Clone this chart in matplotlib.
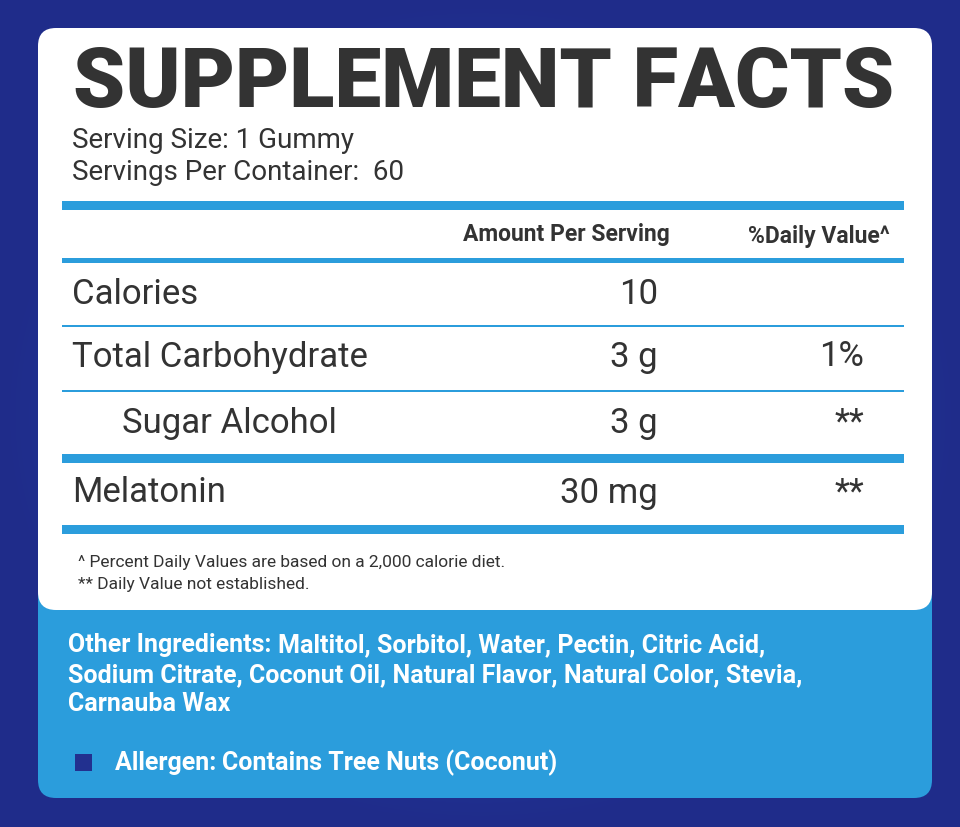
import matplotlib.pyplot as plt
from matplotlib.patches import FancyBboxPatch, Rectangle
import numpy as np

title = "SUPPLEMENT FACTS"
serving = ["Serving Size: 1 Gummy", "Servings Per Container:  60"]
headers = ["Amount Per Serving", "%Daily Value^"]
nutrients = ["Calories", "Total Carbohydrate", "Sugar Alcohol", "Melatonin"]
amounts = ["10", "3 g", "3 g", "30 mg"]
dvs = ["", "1%", "**", "**"]
indent = [False, False, True, False]
footnotes = ["^ Percent Daily Values are based on a 2,000 calorie diet.",
             "** Daily Value not established."]
other = ["Maltitol, Sorbitol, Water, Pectin, Citric Acid,",
         "Sodium Citrate, Coconut Oil, Natural Flavor, Natural Color, Stevia,",
         "Carnauba Wax"]
allergen = "Contains Tree Nuts (Coconut)"

plt.rcParams['font.family'] = ['Roboto', 'DejaVu Sans']
fig = plt.figure(figsize=(9.6, 8.27), dpi=100)
ax = fig.add_axes([0, 0, 1, 1])
ax.set_xlim(0, 960)
ax.set_ylim(827, 0)
ax.axis("off")

# blue background with soft gradient
yy, xx = np.mgrid[0:827, 0:960]
d = np.hypot((xx - 480) / 480, (yy - 414) / 414)
c0 = np.array([0x2a, 0x4c, 0xbc]) / 255
c1 = np.array([0x1f, 0x2c, 0x8a]) / 255
img = c0 + (c1 - c0) * np.clip(d, 0, 1)[..., None]
ax.imshow(img, extent=[0, 960, 827, 0], zorder=0)

lblue = "#2b9ddc"
ax.add_patch(FancyBboxPatch((38, 560), 894, 238, boxstyle="round,pad=0,rounding_size=18",
                            fc=lblue, ec="none", zorder=1))
ax.add_patch(FancyBboxPatch((38, 28), 894, 582, boxstyle="round,pad=0,rounding_size=18",
                            fc="white", ec="none", zorder=2))

dark = "#333333"
ax.text(484, 84, title, fontsize=60, fontweight="black", color=dark,
        ha="center", va="center", zorder=3)
for i, s in enumerate(serving):
    ax.text(72, 140 + i * 33, s, fontsize=20, color=dark, va="center", zorder=3)

# rule lines (y, thickness)
for y, h in [(205, 9), (260, 5), (326, 2.5), (391, 2.5), (458, 9), (529, 9)]:
    ax.add_patch(Rectangle((62, y - h / 2), 842, h, fc=lblue, ec="none", zorder=3))

ax.text(670, 234, headers[0], fontsize=16.5, fontweight="bold", color=dark,
        ha="right", va="center", zorder=3)
ax.text(890, 236, headers[1], fontsize=16.5, fontweight="bold", color=dark,
        ha="right", va="center", zorder=3)

row_y = [294, 357, 423, 493]
for n, a, dv, ind, y in zip(nutrients, amounts, dvs, indent, row_y):
    ax.text(122 if ind else 72, y, n, fontsize=25, color=dark, va="center", zorder=3)
    ax.text(658, y, a, fontsize=25, color=dark, ha="right", va="center", zorder=3)
    ax.text(864, y, dv, fontsize=25, color=dark, ha="right", va="center", zorder=3)

for i, f in enumerate(footnotes):
    ax.text(78, 563 + i * 22, f, fontsize=12.5, color=dark, va="center", zorder=3)

kw = dict(fontsize=18, color="white", va="center", zorder=3, fontweight="bold")
t = ax.text(68, 645, "Other Ingredients: ", **kw)
ax.annotate(other[0], xycoords=t, xy=(1, 0.5), va="center", ha="left", **{k: v for k, v in kw.items() if k != "va"})
for i, s in enumerate(other[1:]):
    ax.text(68, 675 + i * 29, s, **kw)
ax.add_patch(Rectangle((75, 754), 17, 17, fc="#22308f", ec="none", zorder=3))
t2 = ax.text(115, 763, "Allergen: ", **kw)
ax.annotate(allergen, xycoords=t2, xy=(1, 0.5), ha="left", **kw)

fig.savefig("out.png", dpi=100)
